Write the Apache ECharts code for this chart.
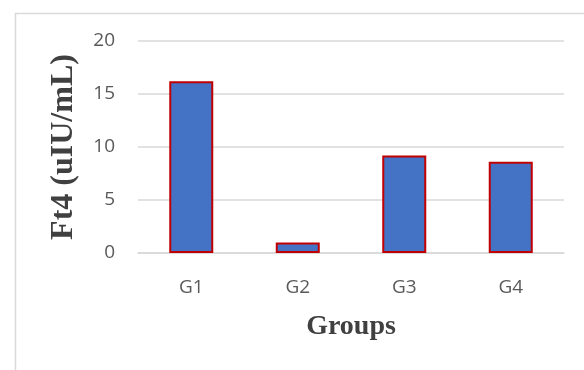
<!DOCTYPE html>
<html>
<head>
<meta charset="utf-8">
<script src="https://cdn.jsdelivr.net/npm/echarts@6/dist/echarts.min.js"></script>
<style>
  html, body { margin: 0; padding: 0; background: #ffffff; }
  #chart { width: 584px; height: 370px; }
</style>
</head>
<body>
<div id="chart"></div>
<script>
// Ft4 level per group
const groups = ['G1', 'G2', 'G3', 'G4'];
const ft4Values = [16.2, 1.0, 9.2, 8.6];
const yTicks = { min: 0, max: 20, interval: 5 };

const chart = echarts.init(document.getElementById('chart'), null, { renderer: 'canvas' });

chart.setOption({
  animation: false,
  backgroundColor: '#ffffff',
  graphic: [{
    type: 'rect',
    left: 13, top: 11,
    shape: { width: 600, height: 400 },
    style: { fill: 'none', stroke: '#d9d9d9', lineWidth: 1.5 },
    silent: true,
    z: -1
  }],
  grid: { left: 138, right: 20, top: 41, bottom: 117, containLabel: false },
  xAxis: {
    type: 'category',
    data: groups,
    name: 'Groups',
    nameLocation: 'middle',
    nameGap: 60,
    nameTextStyle: { fontFamily: 'Liberation Serif', fontWeight: 'bold', fontSize: 28, color: '#404040' },
    axisLine: { lineStyle: { color: '#d9d9d9', width: 1.5 } },
    axisTick: { show: false },
    axisLabel: { fontFamily: 'Open Sans', fontSize: 19, color: '#595959', margin: 25 }
  },
  yAxis: {
    type: 'value',
    min: yTicks.min, max: yTicks.max, interval: yTicks.interval,
    name: 'Ft4 (uIU/mL)',
    nameLocation: 'middle',
    nameGap: 58,
    nameTextStyle: { fontFamily: 'Liberation Serif', fontWeight: 'bold', fontSize: 32, color: '#404040' },
    axisLine: { show: false },
    axisTick: { show: false },
    splitLine: { lineStyle: { color: '#d9d9d9', width: 1.5 } },
    axisLabel: { fontFamily: 'Open Sans', fontSize: 19, color: '#595959', margin: 23 }
  },
  series: [{
    type: 'bar',
    data: ft4Values,
    barWidth: 44,
    itemStyle: { color: '#4472c4', borderColor: '#c00000', borderWidth: 2 }
  }]
});
</script>
</body>
</html>
